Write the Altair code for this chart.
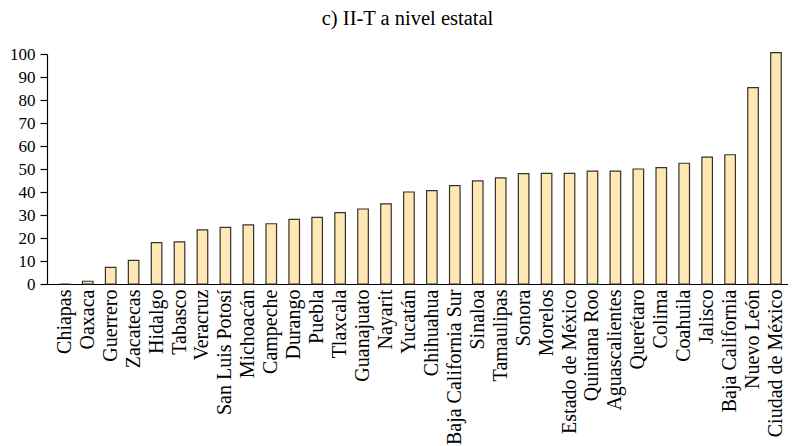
import altair as alt
import pandas as pd

estados = ["Chiapas", "Oaxaca", "Guerrero", "Zacatecas", "Hidalgo", "Tabasco",
           "Veracruz", "San Luis Potosí", "Michoacán", "Campeche", "Durango",
           "Puebla", "Tlaxcala", "Guanajuato", "Nayarit", "Yucatán", "Chihuahua",
           "Baja California Sur", "Sinaloa", "Tamaulipas", "Sonora", "Morelos",
           "Estado de México", "Quintana Roo", "Aguascalientes", "Querétaro",
           "Colima", "Coahuila", "Jalisco", "Baja California", "Nuevo León",
           "Ciudad de México"]
valores = [0, 1.2, 7.2, 10.3, 18.0, 18.3, 23.5, 24.6, 25.7, 26.2, 28.1, 29.0,
           31.0, 32.6, 34.8, 40.0, 40.6, 42.8, 44.8, 46.1, 48.0, 48.1, 48.1,
           49.1, 49.1, 50.0, 50.6, 52.5, 55.2, 56.2, 85.4, 100.6]
y_ticks = [0, 10, 20, 30, 40, 50, 60, 70, 80, 90, 100]

df = pd.DataFrame({"estado": estados, "valor": valores})

FONT = "Liberation Serif"

chart = alt.Chart(df).mark_bar(
    fill="#FFE8B3", stroke="#333333", strokeWidth=1.2
).encode(
    x=alt.X("estado:N", sort=estados, title=None,
            scale=alt.Scale(paddingInner=0.54, paddingOuter=0.42, align=0.65),
            axis=alt.Axis(labelAngle=-90, ticks=False, labelPadding=5,
                          labelFontSize=20, labelFont=FONT, labelColor="#000",
                          domainColor="#000", domainWidth=1.2, labelAlign="right",
                          labelBaseline="middle")),
    y=alt.Y("valor:Q", title=None,
            scale=alt.Scale(domain=[0, 100], nice=False),
            axis=alt.Axis(values=y_ticks, grid=False, tickSize=7, labelPadding=5,
                          labelFontSize=17, labelFont=FONT, labelColor="#000",
                          domainColor="#000", tickColor="#000", domainWidth=1.2,
                          tickWidth=1.2)),
).properties(
    width=741, height=230,
    title=alt.TitleParams("c) II-T a nivel estatal", font=FONT, fontSize=20.5,
                          fontWeight="normal", color="#000", anchor="middle",
                          offset=16, dx=-10),
    padding={"left": 1, "top": 0, "right": 0, "bottom": 0},
).configure_view(stroke=None)

chart.save("out.html", embed_options={"renderer": "svg", "actions": False})
